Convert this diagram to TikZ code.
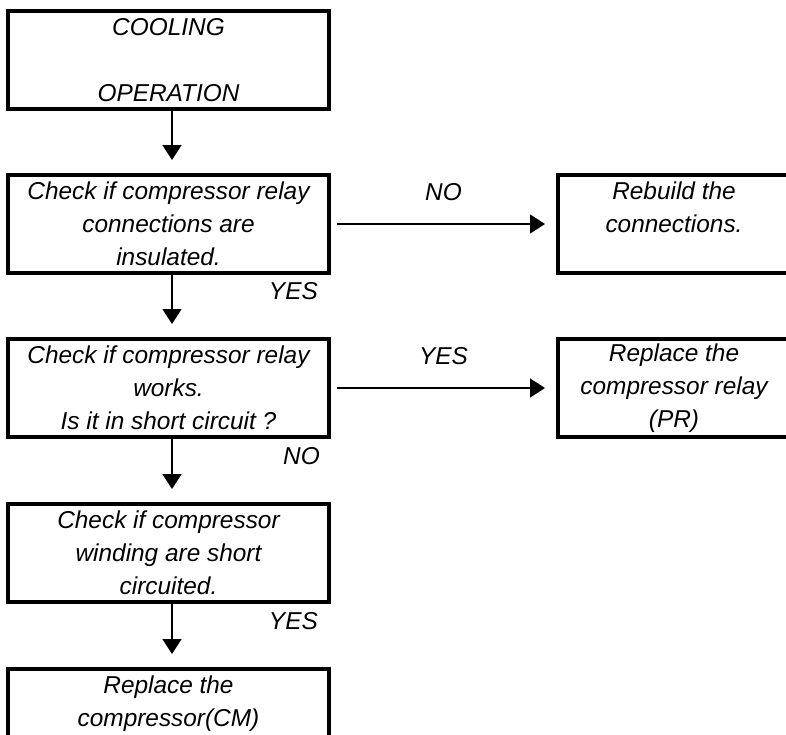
\documentclass[tikz,border=0pt]{standalone}
\usepackage{fontspec}
\setmainfont{Liberation Sans}
\usepackage{tikz}
\usetikzlibrary{positioning, arrows.meta}
\tikzset{
>={Triangle[width=19pt,length=15pt]}, % filled arrow heads
every node/.style={font=\fontsize{24.4}{33}\selectfont\itshape}, % italic sans text everywhere
stepbox/.style={draw=black, line width=3.5pt, outer sep=0pt, inner sep=0pt, minimum width=321pt, minimum height=98pt, align=center}, % boxes of the left column
endbox/.style={stepbox, minimum width=232pt}, % boxes on the right
answer/.style={inner sep=0pt}, % YES / NO labels
flow/.style={->, line width=1.4pt},
}

\begin{document}
\begin{tikzpicture}
      \useasboundingbox (0,0) rectangle (786pt,-734pt);

      \node[stepbox] (cooling) at (168.5pt,-60pt) {COOLING\\\mbox{}\\OPERATION};
      \node[stepbox, below=66pt of cooling] (relayins) {Check if compressor relay\\connections are\\insulated.};
      \node[stepbox, below=66pt of relayins] (relaywork) {Check if compressor relay\\works.\\Is it in short circuit ?};
      \node[stepbox, below=67pt of relaywork] (winding) {Check if compressor\\winding are short\\circuited.};
      \node[stepbox, below=67pt of winding] (replacecm) {Replace the\\compressor(CM)\\\mbox{}};
      \node[endbox, right=229pt of relayins] (rebuild) {Rebuild the\\connections.\\\mbox{}};
      \node[endbox, right=229pt of relaywork] (replacepr) {Replace the\\compressor relay\\(PR)};

      \node[answer, anchor=north east] (yes1) at ([xshift=-11pt, yshift=-9pt]relayins.south east) {YES};
      \node[answer, anchor=north east] (no2) at ([xshift=-9pt, yshift=-10pt]relaywork.south east) {NO};
      \node[answer, anchor=north east] (yes3) at ([xshift=-11pt, yshift=-10pt]winding.south east) {YES};

      \draw[flow, shorten >=15pt] ([xshift=3.5pt]cooling.south) -- ([xshift=3.5pt]relayins.north);
      \draw[flow, shorten >=15pt] ([xshift=3.5pt]relayins.south) -- ([xshift=3.5pt]relaywork.north);
      \draw[flow, shorten >=15pt] ([xshift=3.5pt]relaywork.south) -- ([xshift=3.5pt]winding.north);
      \draw[flow, shorten >=15pt] ([xshift=3.5pt]winding.south) -- ([xshift=3.5pt]replacecm.north);
      \draw[flow, shorten <=8pt, shorten >=13pt] (relayins) -- node[answer, above=23pt] (no1) {NO} (rebuild);
      \draw[flow, shorten <=8pt, shorten >=13pt] (relaywork) -- node[answer, above=23pt] (yes2) {YES} (replacepr);
\end{tikzpicture}
\end{document}
